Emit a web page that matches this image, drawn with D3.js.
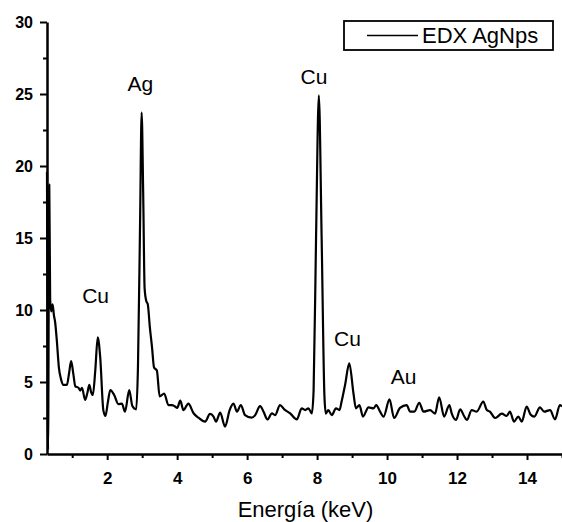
<!DOCTYPE html>
<html lang="es">
<head>
<meta charset="UTF-8">
<title>EDX AgNps</title>
<script src="https://d3js.org/d3.v7.min.js"></script>
<style>
  body { margin: 0; background: #fff; }
  svg { font-family: 'Liberation Sans', Arial, sans-serif; }
  .axis path { stroke: #000; stroke-width: 2.5px; }
  .axis line { stroke: #000; stroke-width: 2px; }
  .axis text { fill: #000; font-weight: bold; }
  .spectrum { fill: none; stroke: #000; stroke-width: 2.2px; stroke-linejoin: round; }
  .peak-label { font-size: 21px; fill: #000; }
</style>
</head>
<body>
<script>
// EDX spectrum
const energy = [0.28, 0.31, 0.345, 0.37, 0.40, 0.44, 0.48, 0.51, 0.56, 0.62, 0.68, 0.75, 0.85, 0.91, 0.97,
  1.03, 1.09, 1.18, 1.23, 1.28, 1.37, 1.43, 1.49, 1.54, 1.59, 1.66, 1.73, 1.80, 1.89, 1.95,
  2.02, 2.09, 2.20, 2.32, 2.42, 2.51, 2.63, 2.72, 2.83, 2.88, 2.94, 2.985, 3.03, 3.07, 3.12, 3.16,
  3.22, 3.28, 3.34, 3.42, 3.50, 3.63, 3.75, 3.85, 3.94, 4.00, 4.09, 4.18, 4.32, 4.47, 4.61, 4.80,
  4.94, 5.04, 5.11, 5.23, 5.37, 5.50, 5.61, 5.71, 5.82, 5.94, 6.13, 6.23, 6.37, 6.47, 6.58, 6.71,
  6.80, 6.94, 7.06, 7.23, 7.42, 7.56, 7.66, 7.75, 7.85, 7.90, 7.97, 8.05, 8.13, 8.21, 8.25, 8.32,
  8.42, 8.54, 8.64, 8.70, 8.80, 8.92, 9.04, 9.11, 9.21, 9.31, 9.47, 9.61, 9.69, 9.80, 9.90, 10.07,
  10.20, 10.37, 10.56, 10.66, 10.78, 10.92, 11.04, 11.23, 11.37, 11.49, 11.63, 11.78, 11.85, 11.97,
  12.09, 12.20, 12.28, 12.42, 12.56, 12.75, 12.85, 12.94, 13.09, 13.28, 13.42, 13.51, 13.63, 13.75,
  13.85, 13.99, 14.10, 14.21, 14.37, 14.49, 14.66, 14.80, 14.94, 15.00];
const counts = [19.6, 0.3, 18.7, 10.8, 9.9, 10.4, 9.6, 9.2, 7.9, 6.0, 5.2, 4.8, 4.8, 5.6, 6.45,
  5.6, 4.7, 4.6, 4.4, 4.6, 3.75, 4.2, 4.8, 4.3, 4.1, 5.8, 8.1, 6.75, 3.05, 2.64,
  3.6, 4.44, 4.1, 3.47, 3.5, 2.94, 4.44, 3.33, 3.1, 6.06, 16.0, 23.7, 18.0, 11.5, 10.6, 10.4,
  8.8, 7.45, 6.0, 5.8, 4.0, 4.2, 3.4, 3.4, 3.3, 3.2, 3.7, 3.05, 3.5, 2.83, 2.52, 2.25,
  2.78, 2.6, 2.25, 2.87, 1.9, 3.05, 3.5, 2.94, 3.4, 2.7, 2.52, 2.7, 3.33, 2.94, 2.4, 2.82,
  2.7, 3.4, 3.1, 2.82, 2.4, 3.17, 3.05, 3.17, 2.82, 4.4, 15.0, 24.9, 15.0, 4.0, 2.8, 3.05,
  2.7, 3.17, 3.05, 3.64, 4.8, 6.3, 4.2, 3.17, 3.4, 2.6, 3.24, 3.17, 3.4, 2.94, 2.6, 3.8,
  2.5, 3.2, 3.4, 2.94, 2.94, 3.56, 2.94, 3.05, 2.8, 3.94, 2.6, 3.4, 2.8, 2.36,
  3.1, 2.64, 2.36, 3.05, 2.94, 3.64, 3.05, 2.94, 2.5, 2.8, 2.64, 2.94, 2.25, 2.6,
  2.25, 3.3, 2.75, 2.6, 3.24, 2.94, 3.05, 2.4, 3.4, 3.3];

const peakNames = ["Ag", "Cu", "Cu", "Cu", "Au"];
const peakEnergy = [2.95, 1.67, 7.91, 8.87, 10.47];
const peakCount = [25.2, 10.5, 25.7, 7.5, 4.86];

const xMajor = [2, 4, 6, 8, 10, 12, 14];
const xMinor = [1, 3, 5, 7, 9, 11, 13, 15];
const yMajor = [0, 5, 10, 15, 20, 25, 30];
const yMinor = [2.5, 7.5, 12.5, 17.5, 22.5, 27.5];

const seriesName = "EDX AgNps";
const xTitle = "Energía (keV)";

const W = 562, H = 522;
const svg = d3.select("body").append("svg")
    .attr("width", W)
    .attr("height", H);

const x = d3.scaleLinear().domain([0.28, 15]).range([47, 562]);
const y = d3.scaleLinear().domain([0, 30]).range([454, 22]);

const points = energy.map((e, i) => ({ e: e, c: counts[i] }));

const line = d3.line()
    .x(d => x(d.e))
    .y(d => y(d.c))
    .curve(d3.curveMonotoneX);

svg.append("path")
    .datum(points)
    .attr("class", "spectrum")
    .attr("d", line);

// minor ticks first, then the major ones with labels
svg.append("g")
    .attr("class", "axis")
    .attr("transform", "translate(0,454)")
    .call(d3.axisBottom(x).tickValues(xMinor).tickSize(4).tickFormat(""))
    .select(".domain").remove();

svg.append("g")
    .attr("class", "axis")
    .attr("transform", "translate(0,454)")
    .call(d3.axisBottom(x).tickValues(xMajor).tickSizeInner(6).tickSizeOuter(0).tickPadding(12))
    .selectAll("text").style("font-size", "17px");

svg.append("g")
    .attr("class", "axis")
    .attr("transform", "translate(47,0)")
    .call(d3.axisLeft(y).tickValues(yMinor).tickSize(4).tickFormat(""))
    .select(".domain").remove();

svg.append("g")
    .attr("class", "axis")
    .attr("transform", "translate(47,0)")
    .call(d3.axisLeft(y).tickValues(yMajor).tickSizeInner(7).tickSizeOuter(0).tickPadding(7))
    .selectAll("text").style("font-size", "16px");

// peak labels
svg.selectAll(".peak-label")
    .data(peakNames)
    .enter().append("text")
    .attr("class", "peak-label")
    .attr("text-anchor", "middle")
    .attr("x", (d, i) => x(peakEnergy[i]))
    .attr("y", (d, i) => y(peakCount[i]))
    .text(d => d);

// legend
const legend = svg.append("g").attr("transform", "translate(344,21)");
legend.append("rect")
    .attr("width", 209).attr("height", 29)
    .attr("fill", "#fff").attr("stroke", "#000").attr("stroke-width", 1.8);
legend.append("line")
    .attr("x1", 23).attr("x2", 74).attr("y1", 14.5).attr("y2", 14.5)
    .attr("stroke", "#000").attr("stroke-width", 1.5);
legend.append("text")
    .attr("x", 78).attr("y", 22)
    .style("font-size", "22px")
    .text(seriesName);

svg.append("text")
    .attr("x", 305.5).attr("y", 517)
    .attr("text-anchor", "middle")
    .style("font-size", "22px")
    .text(xTitle);
</script>
</body>
</html>
